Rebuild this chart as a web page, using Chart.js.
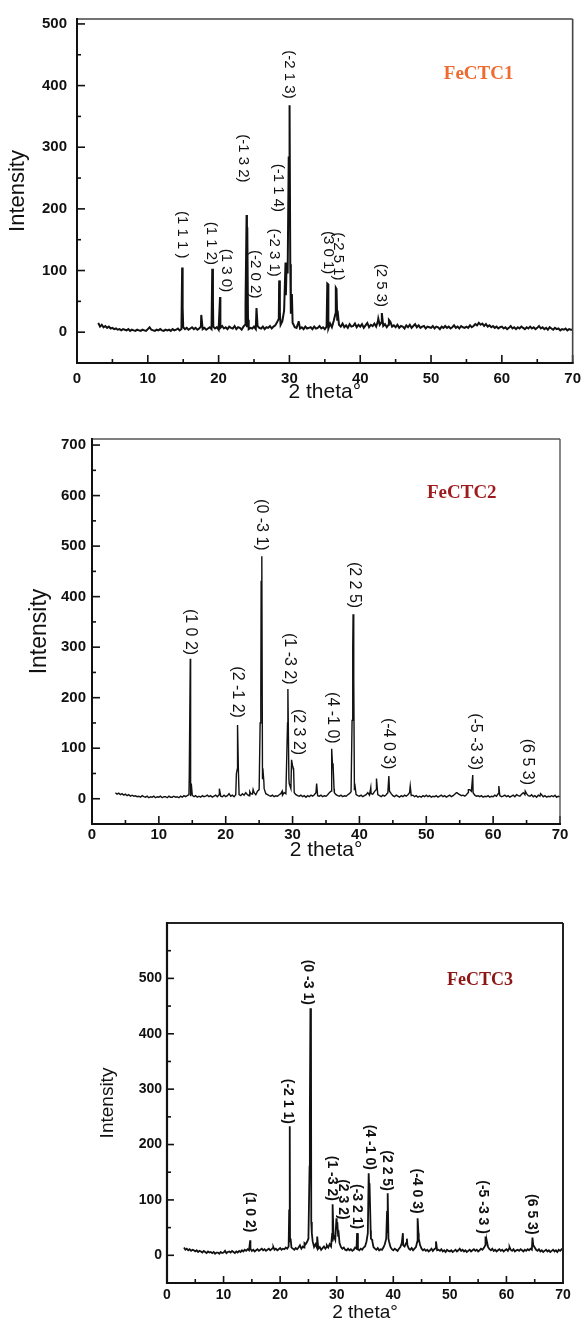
<!DOCTYPE html>
<html><head><meta charset="utf-8">
<script src="https://cdn.jsdelivr.net/npm/chart.js@4.4.1/dist/chart.umd.min.js"></script>
<style>
html,body{margin:0;padding:0;background:#fff;width:588px;height:1328px;overflow:hidden}
canvas{position:absolute;left:0}
</style></head><body>
<canvas id="c1" width="588" height="405" style="top:0px"></canvas>
<canvas id="c2" width="588" height="445" style="top:420px"></canvas>
<canvas id="c3" width="588" height="448" style="top:880px"></canvas>
<script>
// ---------- data ----------
const STEP = 0.25;
const xTicks = [0,10,20,30,40,50,60,70];
const yTicks1 = [0,100,200,300,400,500];
const yTicks2 = [0,100,200,300,400,500,600,700];
const yTicks3 = [0,100,200,300,400,500];

// FeCTC1 : scan from 3.0 deg
const base1Start = 3.0;
const base1 = [
15,9,12,8, 10,7,9,6, 7,5,6,4, 5,3,5,4, 3,5,2,4, 3,2,4,3, 2,4,3,2, 5,8,4,3, 2,4,3,5, 3,2,4,3,
4,2,5,3, 4,6,3,5, 8,5,7,4, 6,8,5,7, 4,6,9,5, 7,4,6,8, 5,9,6,8, 4,7,10,6, 8,5,9,7, 6,10,5,8,
7,4,9,12, 8,5,7,6, 9,5,10,7, 6,9,5,8, 7,10,6,9, 11,16,22,12, 18,35,60,95, 200,40,14,8, 7,15,6,8, 5,9,6,7,
8,5,9,6, 7,10,6,8, 5,9,6,14, 8,18,30,20, 12,9,14,8, 11,7,13,9, 10,14,8,12, 9,13,7,11, 15,8,12,10, 14,9,18,12,
16,10,13,8, 12,17,9,11, 8,12,7,10, 9,6,11,8, 12,7,10,13, 8,11,7,9, 10,6,9,8, 7,10,6,9, 8,5,9,7, 10,7,9,6,
8,11,7,9, 6,10,8,7, 9,7,11,8, 10,13,11,15, 12,14,10,13, 9,11,8,10, 7,9,6,8, 9,6,8,5, 7,10,6,8, 5,8,6,9,
7,5,8,6, 9,6,8,5, 7,10,6,8, 5,7,4,8, 6,4,7,5, 6,3,5,4, 6,3,5,4, 4];
const peaks1X = [14.85,14.92,17.55,19.1,19.2,20.2,23.8,23.95,24.05,24.15,25.35,28.55,28.65,29.45,29.6,29.9,30.02,30.12,30.2,30.35,30.45,31.3,35.35,35.45,36.55,36.65,36.8,42.55,43.05,44.05];
const peaks1Y = [105,40,28,103,50,57,45,190,170,20,39,84,30,113,110,285,368,110,30,62,15,18,79,78,72,70,35,22,31,20];
const labels1 = ['(1 1 1 )','(1 1 2)','(1 3 0)','(-1 3 2)','(-2 0 2)','(-1 1 4)','(-2 3 1)','(-2 1 3)','(3 0 1)','(-2 5 1)','(2 5 3)'];
const labels1X = [14.8,18.9,21.0,23.5,25.2,28.4,27.9,30.0,35.5,36.9,43.0];
const labels1Y = [158,144,100,282,94,234,129,418,129,123,76];

// FeCTC2 : scan from 3.5 deg
const base2Start = 3.5;
const base2 = [
12,9, 11,8,10,7, 9,6,8,5, 7,5,6,4, 5,3,6,4, 3,5,2,4, 3,5,2,4, 3,5,2,4, 4,2,5,3, 3,5,3,4,
2,5,3,6, 4,6,8,5, 7,4,6,3, 5,3,6,4, 5,7,4,6, 3,5,7,4, 8,5,4,7, 4,6,10,5, 7,4,8,60, 8,6,10,7,
12,8,6,10, 9,12,8,15, 18,200,40,20, 10,8,6,5, 7,4,6,5, 8,10,7,12, 10,150,30,20, 65,12,8,6, 5,7,4,6, 3,6,4,7,
5,8,12,6, 5,7,4,6, 5,8,12,15, 60,12,8,6, 5,7,4,6, 5,8,10,14, 300,18,8,6, 5,7,4,6, 8,12,7,10, 9,14,18,8,
6,4,7,5, 8,12,15,10, 6,4,7,5, 3,6,4,7, 5,8,12,6, 7,4,6,3, 5,3,6,4, 7,4,6,3, 5,4,6,3, 5,7,4,6,
3,5,7,4, 6,9,12,10, 8,6,7,5, 8,12,18,15, 12,7,5,6, 4,6,3,5, 4,6,3,5, 4,7,5,10, 6,4,5,7, 4,6,3,5,
7,4,8,6, 5,9,12,8, 10,6,5,8, 4,6,3,7, 5,8,4,6, 3,5,4,6, 4,7,3,5, 4];
const peaks2X = [14.55,14.7,14.85,19.05,21.6,21.77,21.9,23.6,24.1,25.15,25.3,25.4,25.55,25.7,28.45,29.15,29.3,29.45,29.85,30.05,30.15,33.6,35.85,36.05,36.2,38.9,39.05,39.15,39.3,41.7,42.55,44.4,47.6,54.6,56.3,56.95,60.85,64.8,67.1];
const peaks2Y = [45,277,30,20,50,146,55,14,18,150,430,480,60,35,15,95,217,40,77,62,60,30,99,70,20,155,365,240,30,22,40,45,25,12,18,47,25,15,10];
const labels2 = ['(1 0 2)','(2 -1 2)','(0 -3 1)','(1 -3 2)','(2 3 2)','(4 -1 0)','(2 2 5)','(-4 0 3)','(-5 -3 3)','(6 5 3)'];
const labels2X = [14.7,21.8,25.4,29.6,30.8,35.9,39.2,44.4,57.3,65.1];
const labels2Y = [330,211,542,277,132,160,423,109,113,73];

// FeCTC3 : scan from 3.0 deg
const base3Start = 3.0;
const base3 = [
14,10,12,9, 11,8,10,9, 7,9,6,8, 7,5,8,6, 4,7,5,6, 4,6,3,5, 5,3,6,4, 5,8,4,6, 7,5,8,6, 4,7,5,8,
6,9,7,10, 8,11,9,12, 8,10,7,9, 11,8,10,12, 9,11,8,10, 12,9,11,14, 10,12,9,11, 13,10,12,11, 14,12,16,25, 14,12,10,13,
11,14,18,12, 16,14,20,24, 30,250,60,25, 15,20,14,12, 15,10,13,16, 12,18,14,20, 16,25,35,28, 50,35,22,15, 12,14,10,9, 12,9,11,8,
10,14,12,11, 9,12,10,14, 16,24,40,120, 45,28,15,12, 10,13,9,11, 10,14,20,30, 40,25,15,11, 9,12,10,8, 12,15,22,18, 16,22,18,12,
10,13,9,12, 15,25,30,18, 12,9,11,8, 10,7,9,12, 8,11,13,9, 10,8,11,7, 9,6,10,8, 7,9,6,8, 10,7,9,12, 8,10,7,9,
6,8,10,7, 9,11,8,10, 7,9,12,10, 13,18,22,15, 11,9,12,8, 10,7,9,11, 8,10,7,9, 11,8,13,10, 8,11,7,9, 10,8,11,9,
7,10,8,11, 9,12,10,18, 14,10,8,11, 7,9,6,8, 10,7,9,6, 8,10,7,9, 6,10,8,11, 9];
const peaks3X = [14.7,18.8,21.6,21.7,21.85,23.6,24.3,25.2,25.35,25.45,25.6,26.55,28.2,29.2,29.3,29.45,29.95,30.1,30.3,33.6,35.65,35.8,36.05,36.3,38.9,39.02,39.15,41.7,42.4,44.3,44.45,47.55,56.3,56.55,60.55,64.6];
const peaks3Y = [27,15,81,233,30,15,22,160,446,420,40,34,15,40,92,30,67,60,45,40,148,130,30,25,80,112,30,40,30,67,40,25,34,25,15,32];
const labels3 = ['(1 0 2)','(-2 1 1)','(0 -3 1)','(1 -3 2)','(2 3 2)','(-3 2 1)','(4 -1 0)','(2 2 5)','(-4 0 3)','(-5 -3 3 )','(6 5 3)'];
const labels3X = [14.7,21.4,24.9,29.2,31.1,33.6,35.9,38.9,44.2,55.9,64.5];
const labels3Y = [78,278,493,139,101,88,195,153,116,87,74];

const sampleNames = ['FeCTC1','FeCTC2','FeCTC3'];
const sampleX = [51.8,50.1,49.5];
const sampleY = [418,605,496];

// ---------- drawing ----------
const SANS = "'Liberation Sans', Arial, Helvetica, sans-serif";
const SERIF = "'Liberation Serif', 'Times New Roman', serif";

const xrdPlugin = {
  id: 'xrd',
  afterDatasetsDraw(chart, args, o) {
    const {ctx, chartArea: a, scales: {x, y}} = chart;
    ctx.save();
    ctx.strokeStyle = '#111';
    ctx.lineWidth = 1.6;
    const line = (x1, y1, x2, y2) => { ctx.beginPath(); ctx.moveTo(x1, y1); ctx.lineTo(x2, y2); ctx.stroke(); };
    o.xMajor.forEach(v => { const p = x.getPixelForValue(v); line(p, a.bottom, p, a.bottom - o.major); });
    o.xMinor.forEach(v => { const p = x.getPixelForValue(v); line(p, a.bottom, p, a.bottom - o.minor); });
    o.yMajor.forEach(v => { const p = y.getPixelForValue(v); line(a.left, p, a.left + o.major, p); });
    o.yMinor.forEach(v => { const p = y.getPixelForValue(v); line(a.left, p, a.left + o.minor, p); });
    ctx.strokeStyle = o.frameColor2; ctx.lineWidth = o.frameW2;
    line(a.left, a.top, a.right, a.top);
    line(a.right, a.top, a.right, a.bottom);
    ctx.strokeStyle = '#111'; ctx.lineWidth = o.frameW;
    line(a.left, a.top - 1, a.left, a.bottom + 1);
    line(a.left - 1, a.bottom, a.right + 1, a.bottom);
    ctx.fillStyle = '#111';
    ctx.font = o.labelFont;
    ctx.textAlign = 'center';
    ctx.textBaseline = 'middle';
    o.labels.forEach((t, i) => {
      ctx.save();
      ctx.translate(x.getPixelForValue(o.lx[i]), y.getPixelForValue(o.ly[i]));
      ctx.rotate(Math.PI / 2);
      ctx.fillText(t, 0, 0);
      ctx.restore();
    });
    ctx.font = o.nameFont;
    ctx.fillStyle = o.nameColor;
    ctx.textAlign = 'left';
    ctx.fillText(o.name, x.getPixelForValue(o.nx), y.getPixelForValue(o.ny));
    ctx.restore();
  }
};

function makeChart(id, c) {
  const pts = [];
  c.base.forEach((v, i) => pts.push({x: c.baseStart + i * STEP, y: v}));
  c.px.forEach((v, i) => pts.push({x: v, y: c.py[i]}));
  pts.sort((p, q) => p.x - q.x);
  const yMinor = c.yTicks.map(v => v + 50).filter(v => v < c.ymax);
  const xMinor = xTicks.map(v => v + 5).filter(v => v < 70);
  new Chart(document.getElementById(id), {
    type: 'line',
    data: {datasets: [{data: pts, borderColor: '#111', borderWidth: c.lw, pointRadius: 0, fill: false, tension: 0}]},
    options: {
      responsive: false, animation: false, devicePixelRatio: 1,
      layout: {padding: c.pad},
      events: [],
      plugins: {
        legend: {display: false}, tooltip: {enabled: false},
        xrd: {xMajor: xTicks, xMinor, yMajor: c.yTicks, yMinor, major: c.major, minor: 4,
              frameW: c.frameW, frameW2: c.frameW2, frameColor2: c.frameColor2,
              labels: c.labels, lx: c.lx, ly: c.ly, labelFont: c.labelFont,
              name: c.name, nx: c.nx, ny: c.ny, nameFont: c.nameFont, nameColor: c.nameColor}
      },
      scales: {
        x: {
          type: 'linear', min: 0, max: 70,
          afterBuildTicks: s => { s.ticks = xTicks.map(v => ({value: v})); },
          afterFit: s => { s.height = c.xh; },
          grid: {display: false, drawTicks: false}, border: {display: false},
          ticks: {font: {family: SANS, size: c.tickSize, weight: 'bold'}, color: '#111', padding: c.xtp, maxRotation: 0, autoSkip: false},
          title: {display: true, text: '2 theta°', color: '#111', font: {family: SANS, size: c.xtSize, lineHeight: 1}, padding: {top: 0, bottom: c.xtPad}}
        },
        y: {
          type: 'linear', min: -50, max: c.ymax,
          afterBuildTicks: s => { s.ticks = c.yTicks.map(v => ({value: v})); },
          afterFit: s => { s.width = c.yw; },
          grid: {display: false, drawTicks: false}, border: {display: false},
          ticks: {font: {family: SANS, size: c.tickSize, weight: 'bold'}, color: '#111', padding: c.ytp},
          title: {display: true, text: 'Intensity', color: '#111', font: {family: SANS, size: c.ytSize, lineHeight: 1}, padding: {top: c.ytPad, bottom: 0}}
        }
      }
    },
    plugins: [xrdPlugin]
  });
}

makeChart('c1', {
  base: base1, baseStart: base1Start, px: peaks1X, py: peaks1Y, yTicks: yTicks1, ymax: 508,
  pad: {left: 0, top: 16, right: 10, bottom: 0}, yw: 77, xh: 42, lw: 2,
  tickSize: 15, xtp: 7, ytp: 10, xtSize: 21, xtPad: 2, ytSize: 22, ytPad: 7, major: 8,
  frameW: 2, frameW2: 1.6, frameColor2: '#444',
  labels: labels1, lx: labels1X, ly: labels1Y, labelFont: '15px ' + SANS,
  name: sampleNames[0], nx: sampleX[0], ny: sampleY[0], nameFont: 'bold 19px ' + SERIF, nameColor: '#ee6a31'
});
makeChart('c2', {
  base: base2, baseStart: base2Start, px: peaks2X, py: peaks2Y, yTicks: yTicks2, ymax: 712,
  pad: {left: 0, top: 19, right: 28, bottom: 0}, yw: 92, xh: 41, lw: 1.4,
  tickSize: 15, xtp: 2, ytp: 6, xtSize: 21, xtPad: 4.5, ytSize: 23, ytPad: 28.5, major: 8,
  frameW: 2, frameW2: 1.4, frameColor2: '#555',
  labels: labels2, lx: labels2X, ly: labels2Y, labelFont: '16px ' + SANS,
  name: sampleNames[1], nx: sampleX[1], ny: sampleY[1], nameFont: 'bold 19px ' + SERIF, nameColor: '#9e1b1e'
});
makeChart('c3', {
  base: base3, baseStart: base3Start, px: peaks3X, py: peaks3Y, yTicks: yTicks3, ymax: 600,
  pad: {left: 0, top: 43, right: 25, bottom: 0}, yw: 167, xh: 45, lw: 1.8,
  tickSize: 14, xtp: 4, ytp: 5, xtSize: 19, xtPad: 5.5, ytSize: 19, ytPad: 98.5, major: 7,
  frameW: 2.2, frameW2: 2, frameColor2: '#222',
  labels: labels3, lx: labels3X, ly: labels3Y, labelFont: 'bold 14px ' + SANS,
  name: sampleNames[2], nx: sampleX[2], ny: sampleY[2], nameFont: 'bold 18px ' + SERIF, nameColor: '#8c1616'
});
</script></body></html>
